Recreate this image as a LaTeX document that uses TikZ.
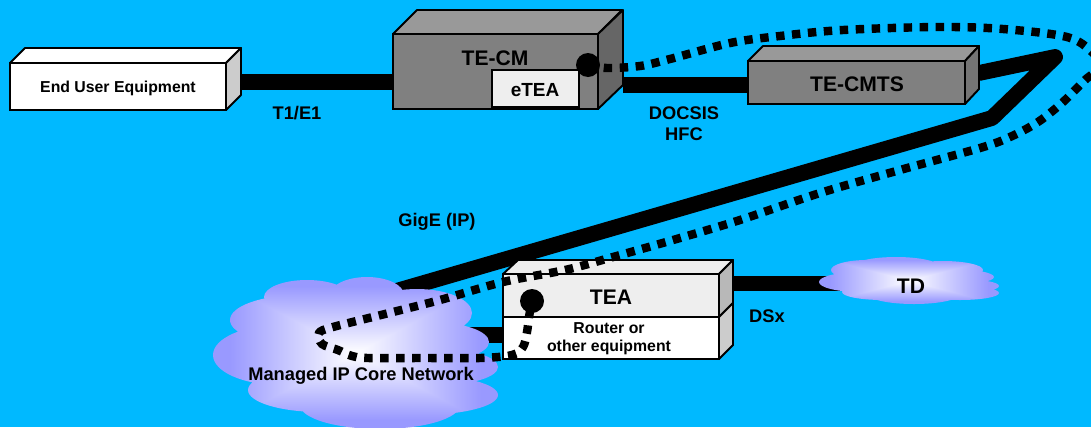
\documentclass[tikz,border=0pt]{standalone}
\usepackage{fontspec}
\setmainfont{Liberation Sans}
\usetikzlibrary{backgrounds}
\definecolor{sky}{HTML}{00B9FF}
\definecolor{front}{HTML}{808080}
\definecolor{lid}{HTML}{999999}
\definecolor{flank}{HTML}{666666}
\definecolor{pale}{HTML}{EEEEEE}
\definecolor{silver}{HTML}{CCCCCC}
\pgfdeclarefunctionalshading{cloudfade}{\pgfpoint{-50bp}{-50bp}}{\pgfpoint{50bp}{50bp}}{}{
  abs exch abs 2 copy gt {pop} {exch pop} ifelse
  22 div dup 1 gt {pop 1} if 0.4 mul 1 exch sub dup 1
}
\begin{document}
\begin{tikzpicture}
[x=0.02cm,y=-0.02cm,
box/.style={draw=black,line width=1.1pt,inner sep=0pt,outer sep=0pt},
face/.style={draw=black,line width=1.1pt,line join=round},
lbl/.style={inner sep=0pt,font=\bfseries\fontsize{10.4}{11.9}\selectfont},
big/.style={inner sep=0pt,font=\bfseries\fontsize{12}{14}\selectfont},
small/.style={inner sep=0pt,align=center,font=\bfseries\fontsize{9}{10.2}\selectfont},
dot/.style={circle,fill=black,inner sep=0pt,minimum size=0.48cm},
trunk/.style={line width=9pt,line join=round,line cap=round},
tunnel/.style={line width=4.8pt,dash pattern=on 4.8pt off 4.3pt}]
\useasboundingbox (0,0) rectangle (1091,427);
\begin{scope}[on background layer]
\fill[sky] (0,0) rectangle (1091,427);
\end{scope}
% clouds
\coordinate (core) at (355,303);
\shade[shading=cloudfade] (307,297) ellipse (43 and 17) (367,295) ellipse (37 and 18)
  (417,313) ellipse (55 and 24) (300,320) ellipse (70 and 25) (280,355) ellipse (67 and 30)
  (430,342) ellipse (59 and 20) (440,367) ellipse (58 and 18) (420,395) ellipse (78 and 20)
  (320,390) ellipse (72 and 22) (380,405) ellipse (80 and 24) (360,350) ellipse (90 and 50);
\coordinate (tdport) at (860,283.5);
\shade[shading=cloudfade] (860,282) ellipse (41 and 10) (867,270) ellipse (36 and 10)
  (896,267) ellipse (44 and 10) (943,270) ellipse (40 and 9) (950,277) ellipse (44 and 8)
  (960,286) ellipse (39 and 7) (960,293) ellipse (39 and 7) (883,292) ellipse (41 and 8)
  (914,294) ellipse (46 and 10) (905,281) ellipse (60 and 15);
\node[lbl] (corelabel) at (361,376) {Managed IP Core Network};
\node[big] (td) at (911,286) {TD};
% end user equipment
\node[box,fill=white,minimum width=4.32cm,minimum height=0.94cm] (eue) at (118,86.5) {};
\draw[face,fill=white] (eue.north west) -- ++(15,-15) -- ++(216,0) -- (eue.north east) -- cycle;
\draw[face,fill=silver] (eue.north east) -- ++(15,-15) -- ++(0,47) -- (eue.south east) -- cycle;
\node[small] (euelabel) at (118,88) {End User Equipment};
% te-cm
\node[box,fill=front,minimum width=4.1cm,minimum height=1.5cm] (cm) at (495.5,71.5) {};
\draw[face,fill=lid] (cm.north west) -- ++(24,-24) -- ++(205,0) -- (cm.north east) -- cycle;
\draw[face,fill=flank] (cm.north east) -- ++(25,-24) -- ++(0,75) -- (cm.south east) -- cycle;
\node[big] (cmlabel) at (495,58) {TE-CM};
\node[box,fill=pale,minimum width=1.74cm,minimum height=0.74cm] (etea) at (535.5,88.5) {};
\node[inner sep=0pt,font=\bfseries\fontsize{10.8}{13}\selectfont] (etealabel) at (535,90) {eTEA};
\node[dot] (cmdot) at (588,65) {};
% te-cmts
\node[box,fill=front,minimum width=4.34cm,minimum height=0.86cm] (cmts) at (856.5,82.5) {};
\draw[face,fill=lid] (cmts.north west) -- ++(15,-15) -- ++(216,0) -- (cmts.north east) -- cycle;
\draw[face,fill=flank!90!white] (cmts.north east) -- ++(14,-15) -- ++(0,43) -- (cmts.south east) -- cycle;
\node[big] (cmtslabel) at (857,84) {TE-CMTS};
% tea and router
\node[box,fill=pale,minimum width=4.32cm,minimum height=0.86cm] (tea) at (611,295.5) {};
\node[big] (tealabel) at (611,297) {TEA};
\node[box,fill=white,minimum width=4.32cm,minimum height=0.84cm] (router) at (611,338) {};
\node[small] (routerlabel) at (609,339) {Router or\\other equipment};
\draw[face,fill=pale] (tea.north west) -- ++(15,-14) -- ++(215,0) -- (tea.north east) -- cycle;
\draw[face,fill=silver!90!black] (tea.north east) -- ++(14,-14) -- ++(0,43) -- (tea.south east) -- cycle;
\draw[face,fill=silver] (router.north east) -- ++(14,-14) -- ++(0,42) -- (router.south east) -- cycle;
\node[dot] (teadot) at (532,301) {};
% free labels
\node[lbl] (t1) at (297,113) {T1/E1};
\node[lbl,align=center] (docsis) at (684,123.5) {DOCSIS\\HFC};
\node[lbl] (gige) at (437,222) {GigE (IP)};
\node[lbl] (dsx) at (767,316) {DSx};
% trunks behind everything
\coordinate (euport) at (241,82);
\coordinate (cmin) at (393,82);
\coordinate (cmout) at (623,85);
\coordinate (cmtsin) at (748,85);
\coordinate (cmtsout) at (979,73);
\coordinate (bend) at (1055,57);
\coordinate (knee) at (992,118);
\coordinate (teaback) at (733,283.5);
\begin{scope}[on background layer]
\draw[trunk,line cap=butt] (euport) -- (cmin);
\draw[trunk,line cap=butt] (cmout) -- (cmtsin);
\draw[trunk] (cmtsout) -- (bend) -- (knee) -- (core);
\draw[trunk,line cap=butt] (450,335) -- (router.west |- 450,335);
\draw[trunk,line cap=butt] (teaback) -- (tdport);
\end{scope}
% tunnel
\draw[tunnel] plot[smooth,tension=0.55] coordinates {(cmdot.center) (607,68) (640,66) (670,59) (730,43) (780,36) (843,30) (938,27) (1003,29) (1067,37) (1092,52) (1101,66) (1085,80) (1063,102) (1038,122) (1010,137) (980,148) (900,170) (820,193) (740,220) (680,238) (613,257) (565,270) (503,282) (440,300) (385,314) (333,327) (319,333) (322,344) (338,350) (352,356) (368,358) (424,358) (480,358) (512,355) (523,347) (527,332) (529,317) (teadot.center)};
\end{tikzpicture}
\end{document}
